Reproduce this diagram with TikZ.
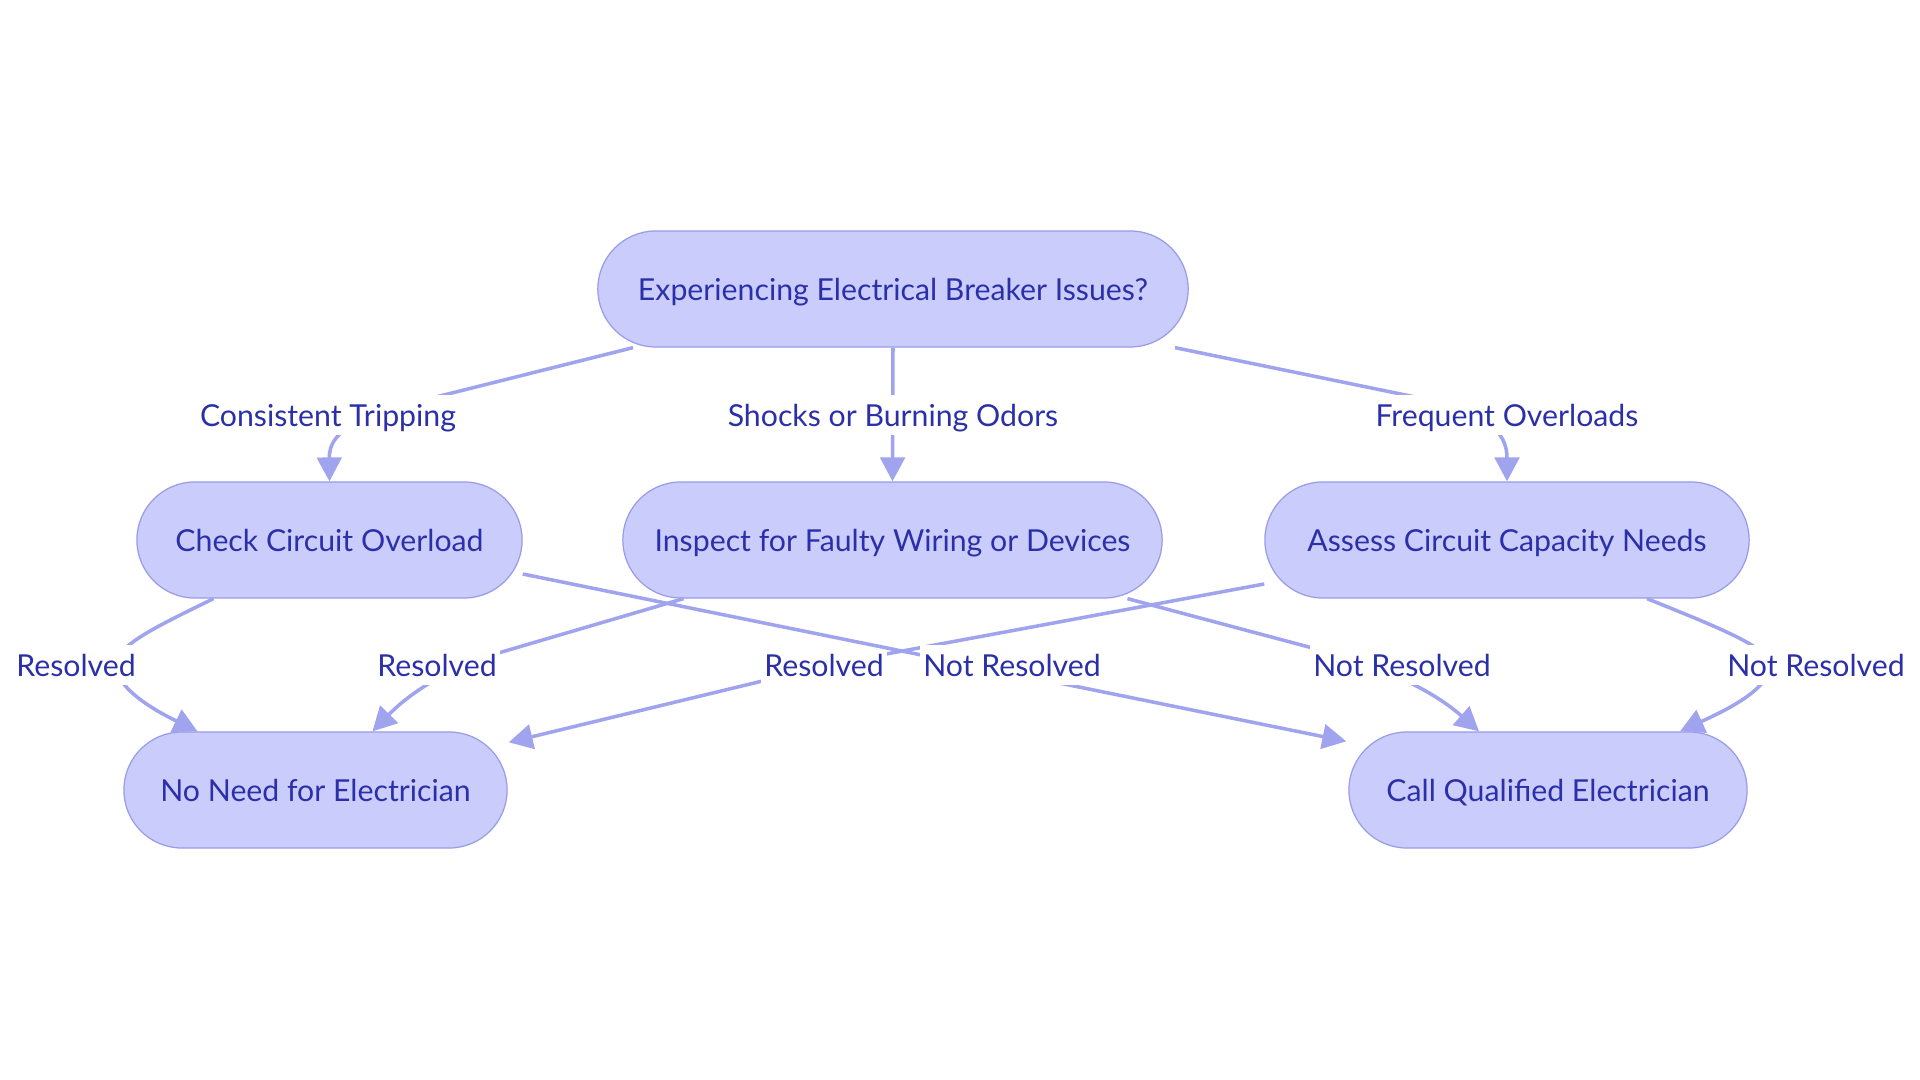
\documentclass[tikz,border=0pt]{standalone}
\usepackage{fontspec}
\setmainfont{Lato}
\usetikzlibrary{arrows.meta,calc}
\definecolor{nodefill}{HTML}{CACCFC}
\definecolor{nodeline}{HTML}{9A9CE8}
\definecolor{edgecol}{HTML}{A0A3EE}
\definecolor{txtcol}{HTML}{2B30A8}
\tikzset{
  box/.style={draw=nodeline, line width=0.35pt, fill=nodefill, rounded corners=0.58cm,
    minimum height=1.16cm, inner sep=0pt, text=txtcol, text height=7.4pt, text depth=0.8pt,
    font=\fontsize{8.6}{10.3}\selectfont},
  conn/.style={draw=edgecol, line width=1pt, -{Triangle[length=6.8pt,width=7pt]}},
  lbl/.style={fill=white, text=txtcol, inner xsep=1pt, inner ysep=1.5pt, text height=7.4pt, text depth=0.8pt,
    font=\fontsize{8.6}{10.3}\selectfont}
}
\begin{document}
\begin{tikzpicture}[x=0.01cm,y=-0.01cm]
\path[use as bounding box] (0,0) rectangle (1920,1080);
\fill[white] (0,0) rectangle (1920,1080);

\node[box, minimum width=5.9cm]  (top)    at (893,289)  {Experiencing Electrical Breaker Issues?};
\node[box, minimum width=3.85cm] (check)  at (329.5,540) {Check Circuit Overload};
\node[box, minimum width=5.39cm] (insp)   at (892.5,540) {Inspect for Faulty Wiring or Devices};
\node[box, minimum width=4.84cm] (assess) at (1507,540) {Assess Circuit Capacity Needs};
\node[box, minimum width=3.83cm] (noneed) at (315.5,790) {No Need for Electrician};
\node[box, minimum width=3.98cm] (call)   at (1548,790) {Call Qualified Electrician};

% top -> check
\draw[conn] ($(top.south)+(-260,0)$) -- (420,401)
  .. controls (355,418) and (329,432) .. (check.north);
\node[lbl] (l1) at (328,415) {Consistent Tripping};

% top -> inspect
\draw[conn] (top.south) -- (insp.north);
\node[lbl] (l2) at (893,415) {Shocks or Burning Odors};

% top -> assess
\draw[conn] ($(top.south)+(282,0)$) -- (1420,398)
  .. controls (1488,414) and (1507,432) .. (assess.north);
\node[lbl] (l3) at (1507,415) {Frequent Overloads};

% check -> noneed
\coordinate (e4) at ($(noneed.north)+(-118,0)$);
\draw[conn] ($(check.south)+(-116,0)$) .. controls (160,625) and (116,645) .. (116,665)
  .. controls (116,690) and (160,713) .. (e4);
\node[lbl] (l4) at (76,665) {Resolved};

% inspect -> noneed
\coordinate (e6) at ($(noneed.north)+(57,0)$);
\draw[conn] ($(insp.south)+(-209,0)$) -- (495,654)
  .. controls (440,671) and (405,698) .. (e6);
\node[lbl] (l6) at (437,665) {Resolved};

% assess -> noneed
\coordinate (e8) at ($(noneed.north east)+(1,11)$);
\draw[conn] ($(assess.west)+(0,44)$) -- (870,657)
  .. controls (830,664) and (805,670) .. (775,678) -- (e8);
\node[lbl] (l8) at (824,665) {Resolved};

% check -> call
\coordinate (e5) at ($(call.north west)+(-2,10)$);
\draw[conn] ($(check.east)+(0,34)$) -- (e5);
\node[lbl] (l5) at (1012,665) {Not Resolved};

% inspect -> call
\coordinate (e7) at ($(call.north)+(-69,0)$);
\draw[conn] ($(insp.south)+(235,0)$) -- (1320,650)
  .. controls (1400,672) and (1440,697) .. (e7);
\node[lbl] (l7) at (1402,665) {Not Resolved};

% assess -> call
\coordinate (e9) at ($(call.north)+(132,0)$);
\draw[conn] ($(assess.south)+(140,0)$) .. controls (1720,628) and (1770,648) .. (1770,665)
  .. controls (1770,690) and (1722,712) .. (e9);
\node[lbl] (l9) at (1816,665) {Not Resolved};
\end{tikzpicture}
\end{document}
